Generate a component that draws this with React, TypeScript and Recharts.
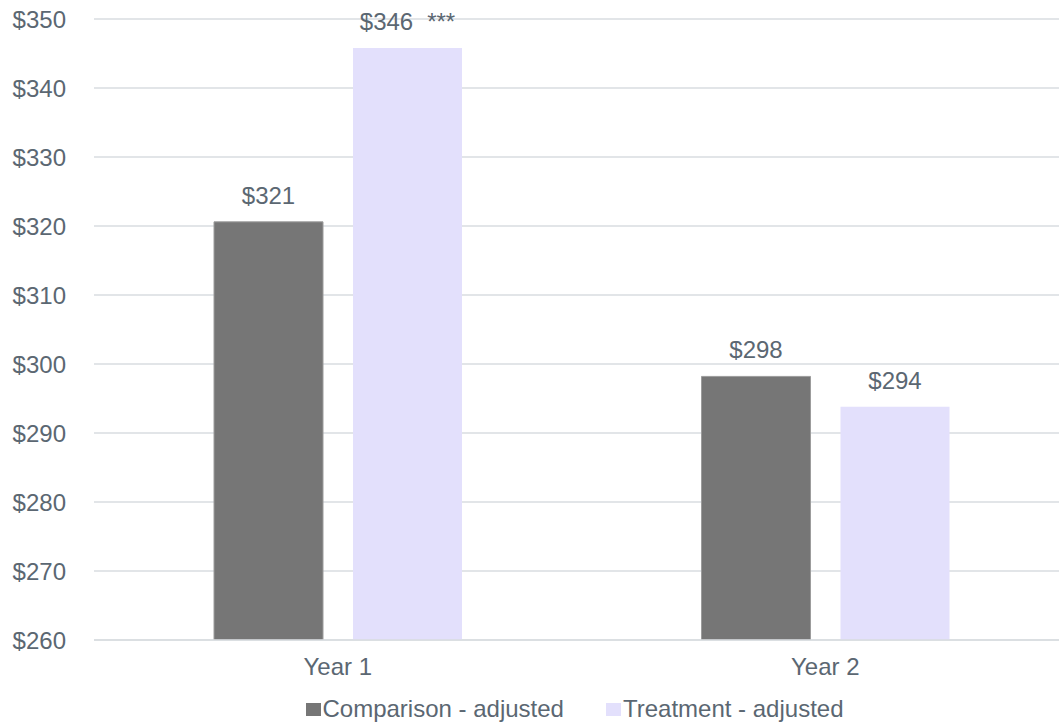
import React from "react";
import { BarChart, Bar, XAxis, YAxis, CartesianGrid, Legend, LabelList } from "recharts";

const categories = ["Year 1", "Year 2"];
const comparisonValues = [320.6, 298.2];
const treatmentValues = [345.8, 293.8];
const comparisonLabels = ["$321", "$298"];
const treatmentLabels = ["$346", "$294"];
const treatmentSignificance = ["***", ""];
const yTicks = [260, 270, 280, 290, 300, 310, 320, 330, 340, 350];
const yTickLabels = ["$260", "$270", "$280", "$290", "$300", "$310", "$320", "$330", "$340", "$350"];

const seriesNames = ["Comparison - adjusted", "Treatment - adjusted"];
const seriesColors = ["#767676", "#E3E0FC"];

const data = categories.map((name, i) => ({
  name,
  comparison: comparisonValues[i],
  treatment: treatmentValues[i],
  compLabel: comparisonLabels[i],
  treatLabel: treatmentLabels[i],
  sig: treatmentSignificance[i],
}));

const FONT = "'Liberation Sans', Arial, sans-serif";
const TEXT = "#5B6772";
const GRID = "#D9DCE1";
const FS = 24;

const makeLabel = (labels: string[], sigs?: string[]) => (props: any) => {
  const { x, y, width, index } = props;
  const sig = sigs ? sigs[index] : "";
  return (
    <text
      x={x + width / 2}
      y={y - 18}
      textAnchor="middle"
      fill={TEXT}
      fontSize={FS}
      fontFamily={FONT}
    >
      <tspan>{labels[index]}</tspan>
      {sig ? <tspan dx={14}>{sig}</tspan> : null}
    </text>
  );
};

const LegendContent = () => (
  <div
    style={{
      display: "flex",
      justifyContent: "center",
      alignItems: "center",
      paddingTop: 17,
      height: 24,
      lineHeight: "24px",
      fontFamily: FONT,
      fontSize: FS,
      color: TEXT,
    }}
  >
    {seriesNames.map((n, i) => (
      <div key={n} style={{ display: "flex", alignItems: "center", marginRight: i === 0 ? 42 : 0 }}>
        <span style={{ display: "inline-block", width: 15, height: 13, background: seriesColors[i], marginRight: 2 }} />
        <span>{n}</span>
      </div>
    ))}
  </div>
);

export default function App() {
  return (
    <div
      style={{
        position: "absolute",
        left: 0,
        top: 0,
        width: 1059,
        height: 722,
        overflow: "hidden",
        background: "#fff",
        fontFamily: FONT,
      }}
    >
      <BarChart
        width={1070}
        height={722}
        data={data}
        margin={{ top: 19, right: 1, left: 0, bottom: 0 }}
        barSize={109}
        barGap={30}
      >
        <CartesianGrid vertical={false} stroke={GRID} strokeWidth={1.5} />
        <XAxis
          dataKey="name"
          axisLine={{ stroke: GRID, strokeWidth: 1.5 }}
          tickLine={false}
          tickSize={0}
          tickMargin={18}
          height={40}
          tick={{ fill: TEXT, fontSize: FS, fontFamily: FONT }}
        />
        <YAxis
          width={94}
          domain={[260, 350]}
          ticks={yTicks}
          tickFormatter={(v: number) => yTickLabels[yTicks.indexOf(v)] ?? `$${v}`}
          axisLine={false}
          tickLine={false}
          tickSize={0}
          tickMargin={28}
          allowDataOverflow
          tick={{ fill: TEXT, fontSize: FS, fontFamily: FONT }}
        />
        <Legend
          verticalAlign="bottom"
          height={42}
          wrapperStyle={{ left: 80, width: 989 }}
          content={<LegendContent />}
        />
        <Bar
          dataKey="comparison"
          name={seriesNames[0]}
          fill={seriesColors[0]}
          stroke="#9C9C9C"
          strokeWidth={1}
          isAnimationActive={false}
        >
          <LabelList dataKey="compLabel" content={makeLabel(comparisonLabels)} />
        </Bar>
        <Bar
          dataKey="treatment"
          name={seriesNames[1]}
          fill={seriesColors[1]}
          isAnimationActive={false}
        >
          <LabelList dataKey="treatLabel" content={makeLabel(treatmentLabels, treatmentSignificance)} />
        </Bar>
      </BarChart>
    </div>
  );
}
